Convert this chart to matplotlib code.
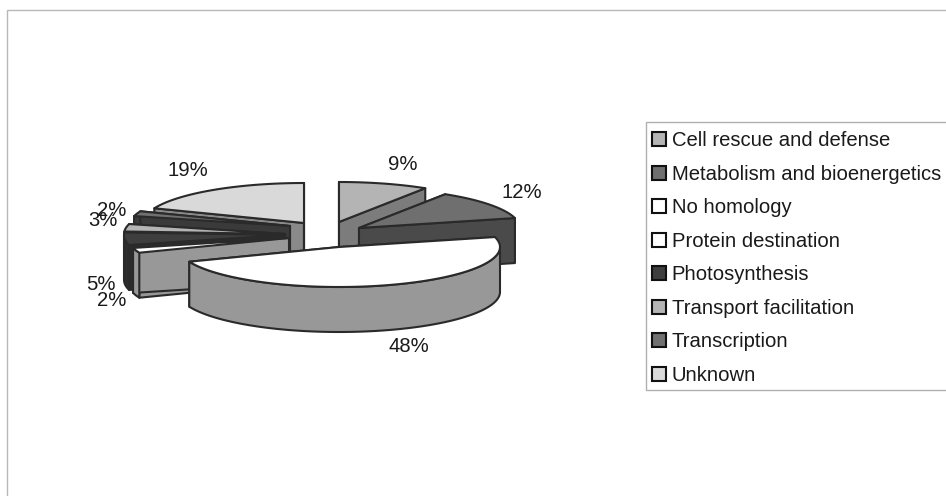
import numpy as np
import matplotlib
matplotlib.use("Agg")
import matplotlib.pyplot as plt
from matplotlib.patches import Polygon, Rectangle

plt.rcParams['font.family'] = ['Liberation Sans', 'DejaVu Sans']

categories = ["Cell rescue and defense", "Metabolism and bioenergetics", "No homology",
              "Protein destination", "Photosynthesis", "Transport facilitation",
              "Transcription", "Unknown"]
percent = [9, 12, 48, 2, 5, 3, 2, 19]

top_colors = ["#b4b4b4", "#6f6f6f", "#ffffff", "#ffffff", "#3e3e3e", "#b4b4b4", "#707070", "#d9d9d9"]
wall_colors = ["#7c7c7c", "#4a4a4a", "#989898", "#989898", "#2c2c2c", "#8c8c8c", "#3a3a3a", "#8a8a8a"]
edge_color = "#2a2a2a"

# Where each wedge's tip sits once pulled out of the pie, and the label anchor
tip_x = [339, 359, 339, 289, 285, 285, 290, 304]
tip_y = [222, 228, 247, 238, 235, 234, 226, 223]
label_x = [403, 522, 409, 112, 101, 103, 112, 188]
label_y = [165, 192, 346, 301, 285, 221, 210, 170]

RX, RY, DEPTH = 161, 40, 45
paint_order = [7, 6, 5, 4, 3, 0, 1, 2]

fig = plt.figure(figsize=(9.46, 4.96), dpi=100, facecolor="white")
ax = fig.add_axes([0, 0, 1, 1])
ax.set_xlim(0, 946)
ax.set_ylim(496, 0)
ax.axis("off")

ax.add_patch(Rectangle((7, 10), 960, 500, fill=False, ec="#b8b8b8", lw=1))


def rim(i, a0, a1):
    n = max(int(abs(a1 - a0) / 2), 2)
    a = np.radians(np.linspace(a0, a1, n))
    return np.column_stack([tip_x[i] + RX * np.sin(a), tip_y[i] - RY * np.cos(a)])


def wall(points, colour, z):
    low = points + [0, DEPTH]
    ax.add_patch(Polygon(np.vstack([points, low[::-1]]), fc=colour, ec=edge_color,
                         lw=1.5, joinstyle="round", zorder=z))


edges = 3.6 * np.concatenate([[0], np.cumsum(percent)])
for z, i in enumerate(paint_order):
    a0, a1 = edges[i], edges[i + 1]
    arc = rim(i, a0, a1)
    tip = np.array([[tip_x[i], tip_y[i]]], dtype=float)
    base = 10 + 2 * z
    wall(np.vstack([tip, arc[:1]]), wall_colors[i], base)
    wall(np.vstack([tip, arc[-1:]]), wall_colors[i], base)
    # Only the stretch of rim on the viewer's side of the pie shows its wall
    f0, f1 = max(a0, 90), min(a1, 270)
    if f1 > f0:
        wall(rim(i, f0, f1), wall_colors[i], base)
    ax.add_patch(Polygon(np.vstack([tip, arc]), fc=top_colors[i], ec=edge_color,
                         lw=1.5, joinstyle="round", zorder=base + 1))

for i, p in enumerate(percent):
    ax.text(label_x[i], label_y[i], f"{p}%", fontsize=14.6, color="#1a1a1a",
            ha="center", va="center", zorder=40)

# Legend frame runs off the right edge of the figure, so it is drawn on its own
ax.add_patch(Rectangle((646, 122), 302, 268, fc="white", ec="#b0b0b0", lw=1, zorder=50))
handles = [Rectangle((0, 0), 1, 1, fc=top_colors[i], ec="#111111", lw=1.5)
           for i in range(len(categories))]
leg = ax.legend(handles, categories, loc="upper left", bbox_to_anchor=(646, 125),
                bbox_transform=ax.transData, fontsize=14.6, frameon=False,
                borderaxespad=0, borderpad=0.32,
                handlelength=0.67, handleheight=0.67, handletextpad=0.28, labelspacing=0.715)
leg.set_zorder(51)
for t in leg.get_texts():
    t.set_color("#1a1a1a")

fig.savefig("out.png", dpi=100)
